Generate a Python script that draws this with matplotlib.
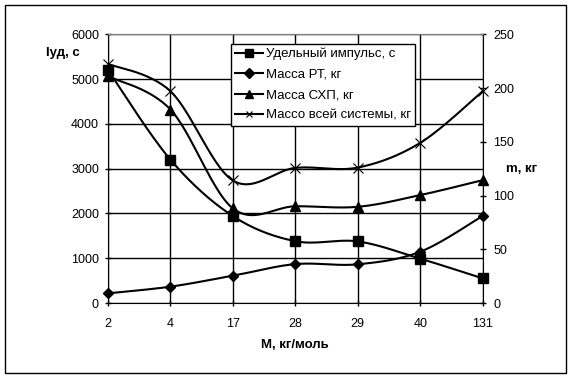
import matplotlib
matplotlib.use("Agg")
import matplotlib.pyplot as plt
import numpy as np
from matplotlib.patches import Rectangle
from matplotlib.lines import Line2D

plt.rcParams['font.family'] = ['Liberation Sans', 'DejaVu Sans']

categories = ["2", "4", "17", "28", "29", "40", "131"]
impulse = [5200, 3200, 1940, 1380, 1375, 990, 550]          # left axis, s
mass_rt = [9, 15.2, 25.4, 36.2, 36, 47.7, 81]               # right axis, kg
mass_shp = [211, 180, 88, 90, 89.5, 100.4, 114.3]           # right axis, kg
mass_total = [222.5, 197, 114, 125.7, 126, 149, 197]        # right axis, kg

left_ticks = [0, 1000, 2000, 3000, 4000, 5000, 6000]
right_ticks = [0, 50, 100, 150, 200, 250]
labels = ["Удельный импульс, с", "Масса РТ, кг", "Масса СХП, кг", "Массо всей системы, кг"]

W, H = 572, 379
fig = plt.figure(figsize=(W / 100, H / 100), dpi=100)
fig.patch.set_facecolor('white')

ax = fig.add_axes([108 / W, (H - 303) / H, (482.7 - 108) / W, (303 - 34.3) / H])
ax2 = ax.twinx()


def smooth(xs, ys, n=30):
    xs = np.asarray(xs, float)
    ys = np.asarray(ys, float)
    P = np.column_stack([xs, ys])
    Pe = np.vstack([P[0], P, P[-1]])
    out = []
    for i in range(len(P) - 1):
        p0, p1, p2, p3 = Pe[i], Pe[i + 1], Pe[i + 2], Pe[i + 3]
        c1 = p1 + (p2 - p0) / 6
        c2 = p2 - (p3 - p1) / 6
        t = np.linspace(0, 1, n)[:, None]
        seg = ((1 - t) ** 3) * p1 + 3 * ((1 - t) ** 2) * t * c1 + 3 * (1 - t) * t ** 2 * c2 + t ** 3 * p2
        out.append(seg if i == 0 else seg[1:])
    out = np.vstack(out)
    return out[:, 0], out[:, 1]


x = np.arange(len(categories))
lw = 1.5

# left axis series
sx, sy = smooth(x, impulse)
ax.plot(sx, sy, color='black', lw=lw, zorder=3)
ax.plot(x, impulse, ls='none', marker='s', ms=7, color='black', zorder=4, clip_on=False)

series2 = [(mass_rt, 'D', 5.5), (mass_shp, '^', 7), (mass_total, 'x', 6.5)]
for vals, mk, ms in series2:
    sx, sy = smooth(x, vals)
    ax2.plot(sx, sy, color='black', lw=lw, zorder=3)
    ax2.plot(x, vals, ls='none', marker=mk, ms=ms, color='black', mew=0.8 if mk == 'x' else 1,
             zorder=4, clip_on=False)

ax.set_xlim(0, len(categories) - 1)
ax.set_ylim(0, 6000)
ax2.set_ylim(0, 250)
ax.set_xticks(x)
ax.set_xticklabels(categories)
ax.set_yticks(left_ticks)
ax2.set_yticks(right_ticks)

ax.grid(True, color='black', lw=1)
ax.set_axisbelow(True)

for a in (ax, ax2):
    a.tick_params(labelsize=9, direction='inout', length=5, width=1, colors='black')
    a.set_facecolor('none')
ax.tick_params(axis='x', pad=8)
ax.tick_params(axis='y', pad=4)
ax2.tick_params(axis='y', pad=5)

for s in ('left', 'bottom'):
    ax.spines[s].set_color('black')
ax.spines['top'].set_color('gray')
ax.spines['right'].set_visible(False)
ax2.spines['top'].set_color('gray')
ax2.spines['left'].set_visible(False)
ax2.spines['bottom'].set_visible(False)
ax2.spines['right'].set_color('black')

# axis titles
fig.text(63 / W, 1 - 53 / H, "Iуд, с", fontsize=9.5, fontweight='bold', ha='center', va='center')
fig.text(522 / W, 1 - 169 / H, "m, кг", fontsize=9.5, fontweight='bold', ha='center', va='center')
fig.text(295 / W, 1 - 345 / H, "M, кг/моль", fontsize=9.5, fontweight='bold', ha='center', va='center')

# legend
handles = [
    Line2D([], [], color='black', lw=lw, marker='s', ms=6),
    Line2D([], [], color='black', lw=lw, marker='D', ms=5),
    Line2D([], [], color='black', lw=lw, marker='^', ms=6),
    Line2D([], [], color='black', lw=lw, marker='x', ms=5, mew=0.8),
]
leg = ax2.legend(handles, labels, loc='upper left',
                 bbox_to_anchor=((231 - 108) / (482.7 - 108), 1 - (44 - 34.3) / (303 - 34.3)),
                 fontsize=9.5, frameon=True, fancybox=False, edgecolor='black',
                 handlelength=2.1, handletextpad=0.25, borderpad=0.3, labelspacing=0.62,
                 borderaxespad=0)
leg.get_frame().set_linewidth(1)
leg.get_frame().set_facecolor('white')
leg.get_frame().set_alpha(1)
leg.set_zorder(10)

fig.add_artist(Rectangle((5 / W, (H - 373) / H), 561 / W, 368 / H, transform=fig.transFigure,
                         fill=False, edgecolor='black', lw=1))

fig.savefig('out.png', dpi=100, facecolor='white')
